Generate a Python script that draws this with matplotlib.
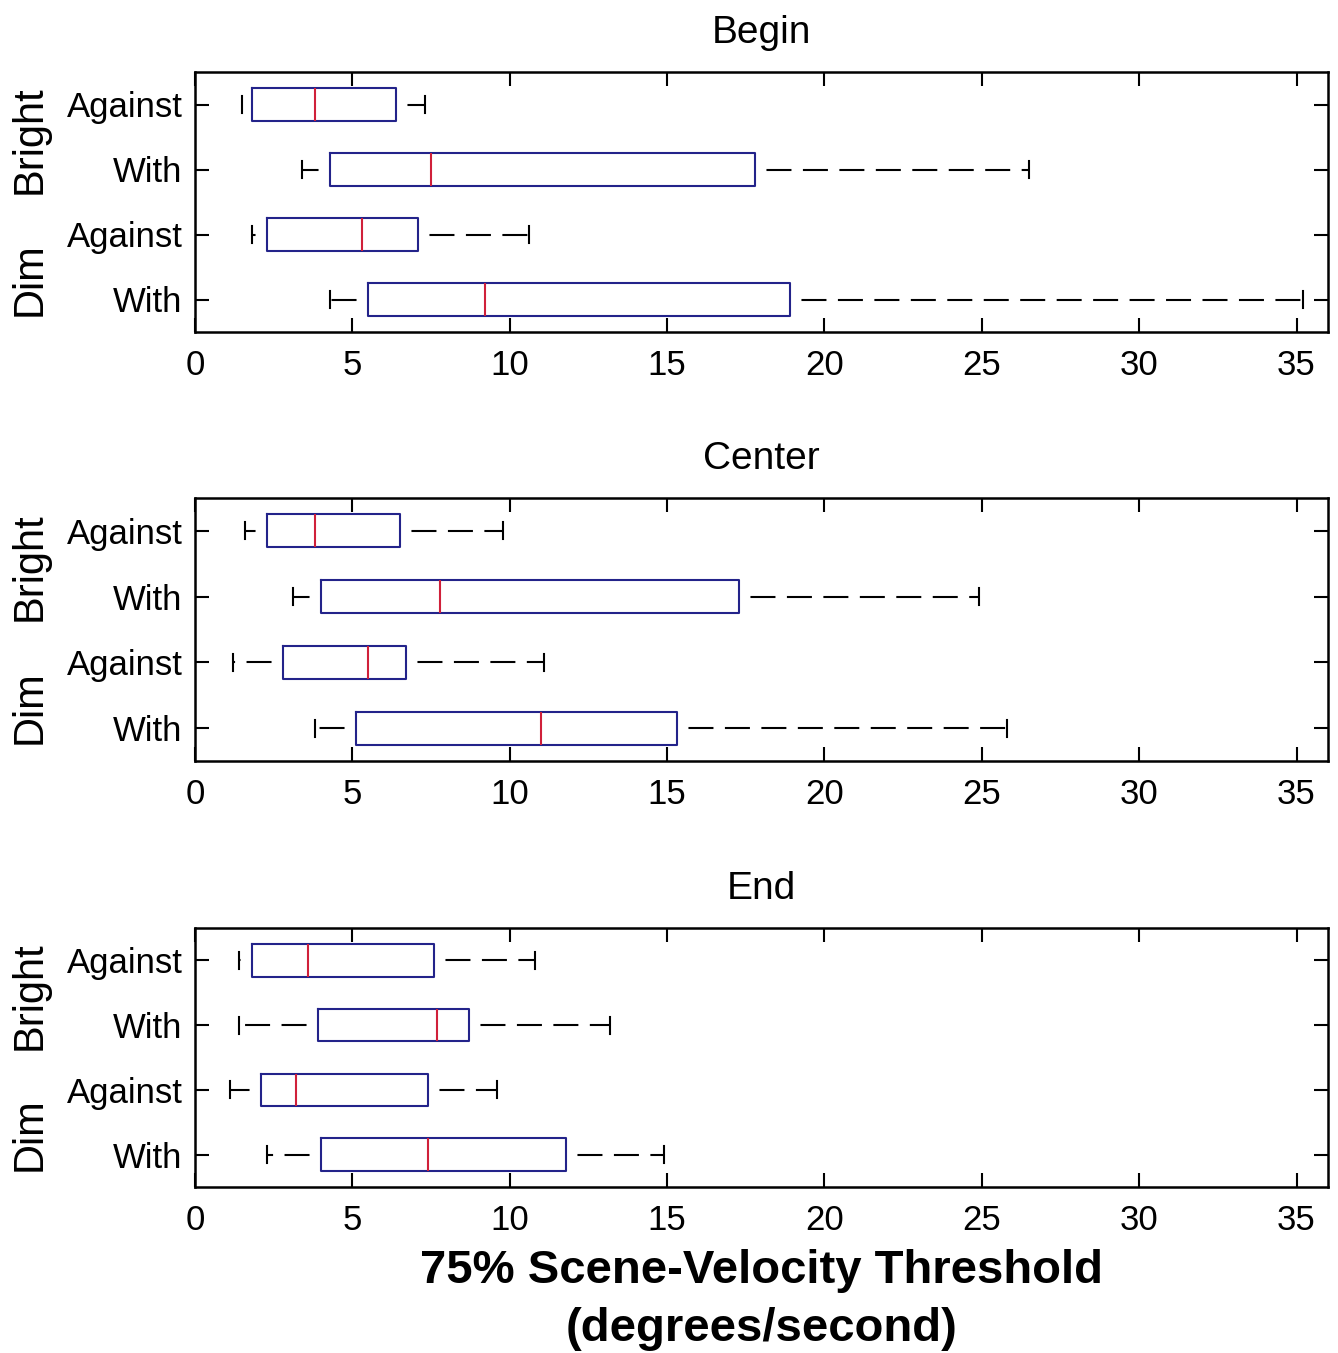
import matplotlib
matplotlib.use("Agg")
import matplotlib.pyplot as plt

plt.rcParams['font.family'] = ['Liberation Sans', 'DejaVu Sans']

# rows from top to bottom in each panel
conditions = ["Against", "With", "Against", "With"]
groups = ["Bright", "Dim"]
panels = ["Begin", "Center", "End"]

# five-number summaries per panel: whisker low, q1, median, q3, whisker high
begin_low = [1.5, 3.4, 1.8, 4.3]
begin_q1 = [1.8, 4.3, 2.3, 5.5]
begin_med = [3.8, 7.5, 5.3, 9.2]
begin_q3 = [6.4, 17.8, 7.1, 18.9]
begin_high = [7.3, 26.5, 10.6, 35.2]

center_low = [1.6, 3.1, 1.2, 3.8]
center_q1 = [2.3, 4.0, 2.8, 5.1]
center_med = [3.8, 7.8, 5.5, 11.0]
center_q3 = [6.5, 17.3, 6.7, 15.3]
center_high = [9.8, 24.9, 11.1, 25.8]

end_low = [1.4, 1.4, 1.1, 2.3]
end_q1 = [1.8, 3.9, 2.1, 4.0]
end_med = [3.6, 7.7, 3.2, 7.4]
end_q3 = [7.6, 8.7, 7.4, 11.8]
end_high = [10.8, 13.2, 9.6, 14.9]

summaries = [
    (begin_low, begin_q1, begin_med, begin_q3, begin_high),
    (center_low, center_q1, center_med, center_q3, center_high),
    (end_low, end_q1, end_med, end_q3, end_high),
]

xticks = [0, 5, 10, 15, 20, 25, 30, 35]

fig = plt.figure(figsize=(13.38, 13.53), dpi=100)

left = 195 / 1338
width = (1328 - 195) / 1338
tops = [72, 498, 928]
bottoms = [332, 761, 1187]

box_color = "#23238a"
med_color = "#d0203a"
lw = 1.5

for i, (title, summ) in enumerate(zip(panels, summaries)):
    lo, q1, med, q3, hi = summ
    ax = fig.add_axes([left, 1 - bottoms[i] / 1353, width, (bottoms[i] - tops[i]) / 1353])
    stats = []
    for j in range(len(conditions)):
        stats.append(dict(whislo=lo[j], q1=q1[j], med=med[j], q3=q3[j], whishi=hi[j], fliers=[]))
    pos = list(range(1, len(conditions) + 1))
    ax.bxp(stats, positions=pos, vert=False, widths=0.5, capwidths=0.26,
           showfliers=False,
           boxprops=dict(color=box_color, linewidth=lw),
           medianprops=dict(color=med_color, linewidth=lw),
           whiskerprops=dict(color="black", linewidth=lw,
                             linestyle=(12, (12, 5.5))),
           capprops=dict(color="black", linewidth=lw))
    ax.set_xlim(0, 36)
    ax.set_ylim(4.5, 0.5)
    ax.set_xticks(xticks)
    ax.set_yticks(pos)
    ax.set_yticklabels(conditions)
    ax.tick_params(direction="in", length=10, width=1.5, top=True, right=True,
                   labelsize=25, pad=12)
    ax.tick_params(axis="y", pad=9)
    for s in ax.spines.values():
        s.set_linewidth(1.8)
    ax.set_title(title, fontsize=28, pad=21)
    ytr = ax.get_yaxis_transform()
    ax.text(-0.1456, 1.54, groups[0], transform=ytr, rotation=90,
            ha="center", va="center", fontsize=30)
    ax.text(-0.1456, 3.68, groups[1], transform=ytr, rotation=90,
            ha="center", va="center", fontsize=30)
    if i == 2:
        ax.set_xlabel("75% Scene-Velocity Threshold\n(degrees/second)",
                      fontsize=34, fontweight="bold", labelpad=9, linespacing=1.4)

fig.savefig("out.png", dpi=100)
